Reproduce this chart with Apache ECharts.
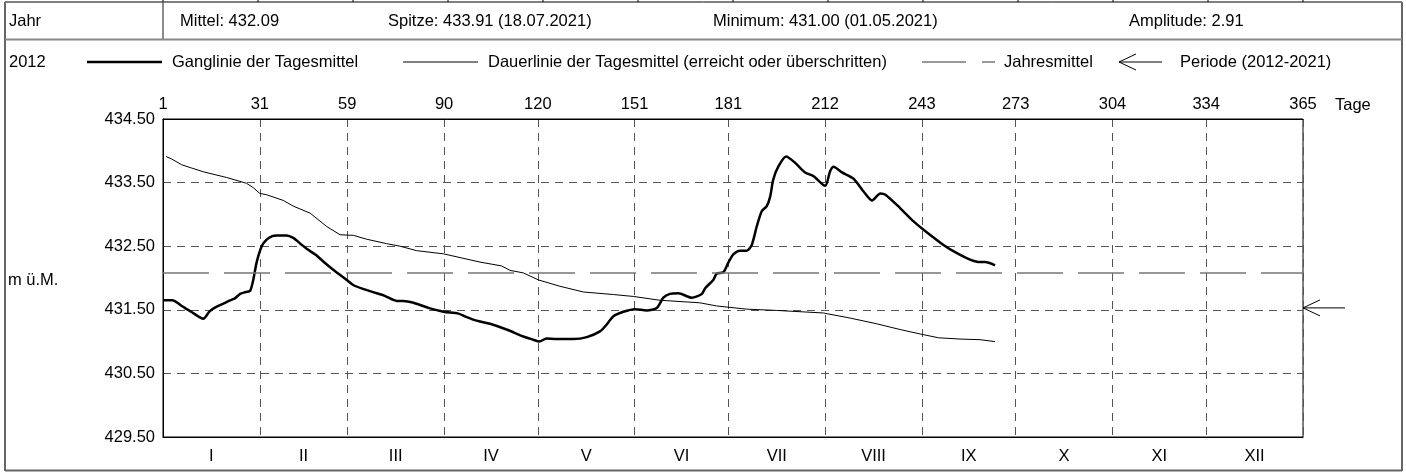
<!DOCTYPE html>
<html>
<head>
<meta charset="utf-8">
<script src="https://cdn.jsdelivr.net/npm/echarts@6/dist/echarts.min.js"></script>
<style>
html,body{margin:0;padding:0;background:#fff;}
#chart{width:1406px;height:472px;}
</style>
</head>
<body>
<div id="chart"></div>
<script>
// ---- data ----
const ganglinieDays = [0,3,6,9,12.9,15,17.2,19.5,21.5,23,24.7,26.5,27.9,28.9,30,31.6,33.1,35,36.4,39.6,41.7,44,46,49,51.3,54.5,58.8,60.9,64,68.4,71,74.8,77,80.2,85,89.8,94.6,97,100.4,104.7,110,115.4,118.5,120.5,122.8,126,131.4,135.7,139.9,142.1,144.2,147.4,151.1,154.9,158.1,160.2,162.3,165,169.3,172.5,173.6,176.2,177.3,179.4,181,182.6,184.8,186.9,188.5,190.1,191.7,193.3,194.4,195.4,197,199.5,202.4,205.6,208.3,212,213.6,214.7,217.4,221.1,224.3,227,229.7,231.3,236,240.3,243.5,249.9,254.2,258.4,261.6,263.2,266.4];
const ganglinieValues = [431.65,431.65,431.56,431.47,431.36,431.48,431.55,431.60,431.65,431.68,431.75,431.78,431.80,431.97,432.25,432.50,432.60,432.66,432.67,432.67,432.63,432.54,432.46,432.36,432.26,432.13,431.97,431.89,431.83,431.76,431.72,431.64,431.64,431.61,431.53,431.47,431.44,431.39,431.33,431.28,431.19,431.08,431.03,431.00,431.05,431.04,431.04,431.07,431.16,431.27,431.40,431.47,431.51,431.49,431.53,431.69,431.75,431.76,431.69,431.75,431.84,431.97,432.07,432.09,432.24,432.37,432.43,432.43,432.52,432.81,433.05,433.13,433.28,433.55,433.75,433.91,433.81,433.66,433.60,433.45,433.68,433.75,433.66,433.56,433.36,433.22,433.33,433.31,433.10,432.89,432.76,432.52,432.39,432.29,432.25,432.25,432.20];
const dauerDays = [1,2.8,6,9.1,12.9,20.4,26.7,28.9,31,33.1,38.5,41.7,47.1,52.4,56.7,61,65.2,71.6,75.9,81.2,89.8,101.5,108.4,111.1,115.4,120.2,127.1,134.6,144.2,150.6,159.1,171.9,177.3,186.9,196.5,211.4,220,228.5,236,242.4,248.3,255.2,261.6,266.4];
const dauerValues = [433.91,433.87,433.78,433.73,433.67,433.58,433.49,433.42,433.33,433.31,433.22,433.13,433.02,432.81,432.68,432.67,432.61,432.54,432.50,432.43,432.38,432.25,432.19,432.12,432.08,431.97,431.87,431.78,431.74,431.71,431.65,431.61,431.56,431.51,431.49,431.45,431.37,431.28,431.19,431.12,431.06,431.04,431.03,431.00];
const jahresmittel = 432.09;
const periodeMittel = 431.53;
const yTickValues = [429.5,430.5,431.5,432.5,433.5,434.5];
const dayTickValues = [0,31,59,90,120,151,181,212,243,273,304,334,365];
const dayTickLabels = ['1','31','59','90','120','151','181','212','243','273','304','334','365'];
const monthMidValues = [15.5,45,74.5,105,135.5,166,196.5,227.5,258,288.5,319,349.5];
const monthLabels = ['I','II','III','IV','V','VI','VII','VIII','IX','X','XI','XII'];
const headerTexts = ['Jahr','Mittel: 432.09','Spitze: 433.91 (18.07.2021)','Minimum: 431.00 (01.05.2021)','Amplitude: 2.91'];
const yearLabel = '2012';
const legendTexts = ['Ganglinie der Tagesmittel','Dauerlinie der Tagesmittel (erreicht oder überschritten)','Jahresmittel','Periode (2012-2021)'];

// ---- chart ----
const FONT = '"Liberation Sans", Arial, sans-serif';
const FS = 16.5;
const chart = echarts.init(document.getElementById('chart'), null, {renderer:'canvas'});
const gridDash = {type:[8,6], color:'#555', width:1};

const option = {
  animation:false,
  backgroundColor:'#fff',
  textStyle:{fontFamily:FONT},
  grid:{left:163, top:119, width:1140, height:318, show:true, borderColor:'#000', borderWidth:1, backgroundColor:'transparent'},
  xAxis:[
    {type:'value', position:'top', min:0, max:365,
     axisLine:{show:true, lineStyle:{color:'#000', width:1}},
     axisTick:{show:false, customValues:dayTickValues},
     axisLabel:{customValues:dayTickValues, color:'#000', fontSize:FS, fontFamily:FONT, margin:6,
       formatter:(v)=>dayTickLabels[dayTickValues.indexOf(v)]},
     splitLine:{show:true, lineStyle:gridDash}},
    {type:'value', position:'bottom', min:0, max:365,
     axisLine:{show:true, lineStyle:{color:'#000', width:1}},
     axisTick:{show:false, customValues:monthMidValues},
     axisLabel:{customValues:monthMidValues, color:'#000', fontSize:FS, fontFamily:FONT, margin:11,
       formatter:(v)=>monthLabels[monthMidValues.indexOf(v)]},
     splitLine:{show:false}}
  ],
  yAxis:{type:'value', min:429.5, max:434.5,
     axisLine:{show:true, lineStyle:{color:'#000', width:1}},
     axisTick:{show:false, customValues:yTickValues},
     axisLabel:{customValues:yTickValues, color:'#000', fontSize:FS, fontFamily:FONT, margin:8,
       formatter:(v)=>v.toFixed(2)},
     splitLine:{show:true, lineStyle:gridDash}},
  series:[
    {type:'line', name:'Dauerlinie', xAxisIndex:0, data:dauerDays.map((d,i)=>[d,dauerValues[i]]),
     showSymbol:false, lineStyle:{color:'#000', width:1}, silent:true, z:3},
    {type:'line', name:'Ganglinie', xAxisIndex:0, data:ganglinieDays.map((d,i)=>[d,ganglinieValues[i]]),
     showSymbol:false, smooth:0.25, lineStyle:{color:'#000', width:2.5}, silent:true, z:4,
     markLine:{silent:true, symbol:'none', label:{show:false},
       lineStyle:{type:[46,15], color:'#777', width:1.5},
       data:[{yAxis:jahresmittel}]}}
  ]
};
chart.setOption(option);

const pY = chart.convertToPixel({yAxisIndex:0}, periodeMittel);
const pX = chart.convertToPixel({xAxisIndex:0}, 365);
const g = [];
function txt(x,y,t,extra){ g.push(Object.assign({type:'text', x:x, y:y, style:{text:t, fill:'#000', font:FS+'px '+FONT, textVerticalAlign:'middle'}, silent:true}, extra||{})); }
function ln(x1,y1,x2,y2,stroke,w){ g.push({type:'line', shape:{x1:x1,y1:y1,x2:x2,y2:y2}, style:{stroke:stroke, lineWidth:w}, silent:true}); }
function pl(pts,stroke,w){ g.push({type:'polyline', shape:{points:pts}, style:{stroke:stroke, lineWidth:w, fill:null}, silent:true}); }

// frame
ln(5,2,1402,2,'#000',1);
ln(5,2,5,471,'#666',2);
ln(1402,2,1402,471,'#666',2);
ln(5,470.5,1402,470.5,'#666',2);
for(let k=0;k<=12;k++){ const x = 163 + k*95; ln(x,0,x,2,'#000',1); }
ln(163,2,163,39,'#666',1.5);
ln(5,39.5,1402,39.5,'#888',2);
// header
txt(9,21,headerTexts[0]);
txt(180,21,headerTexts[1]);
txt(388,21,headerTexts[2]);
txt(713,21,headerTexts[3]);
txt(1129,21,headerTexts[4]);
// legend row
txt(9,62,yearLabel);
ln(87,62,162,62,'#000',2.5);
txt(172,62,legendTexts[0]);
ln(403,62,478,62,'#000',1);
txt(488,62,legendTexts[1]);
ln(922,62,966,62,'#777',1.5);
ln(982,62,995,62,'#777',1.5);
txt(1004,62,legendTexts[2]);
ln(1119,62,1162,62,'#000',1);
pl([[1136,54],[1119,62],[1136,70]],'#000',1);
txt(1180,62,legendTexts[3]);
// axis extras
txt(1335,105,'Tage');
txt(8,280,'m ü.M.');
// periode arrow
ln(pX,pY,pX+42,pY,'#000',1);
pl([[pX+17,pY-8],[pX,pY],[pX+17,pY+8]],'#000',1);

chart.setOption({graphic:g});
</script>
</body>
</html>
